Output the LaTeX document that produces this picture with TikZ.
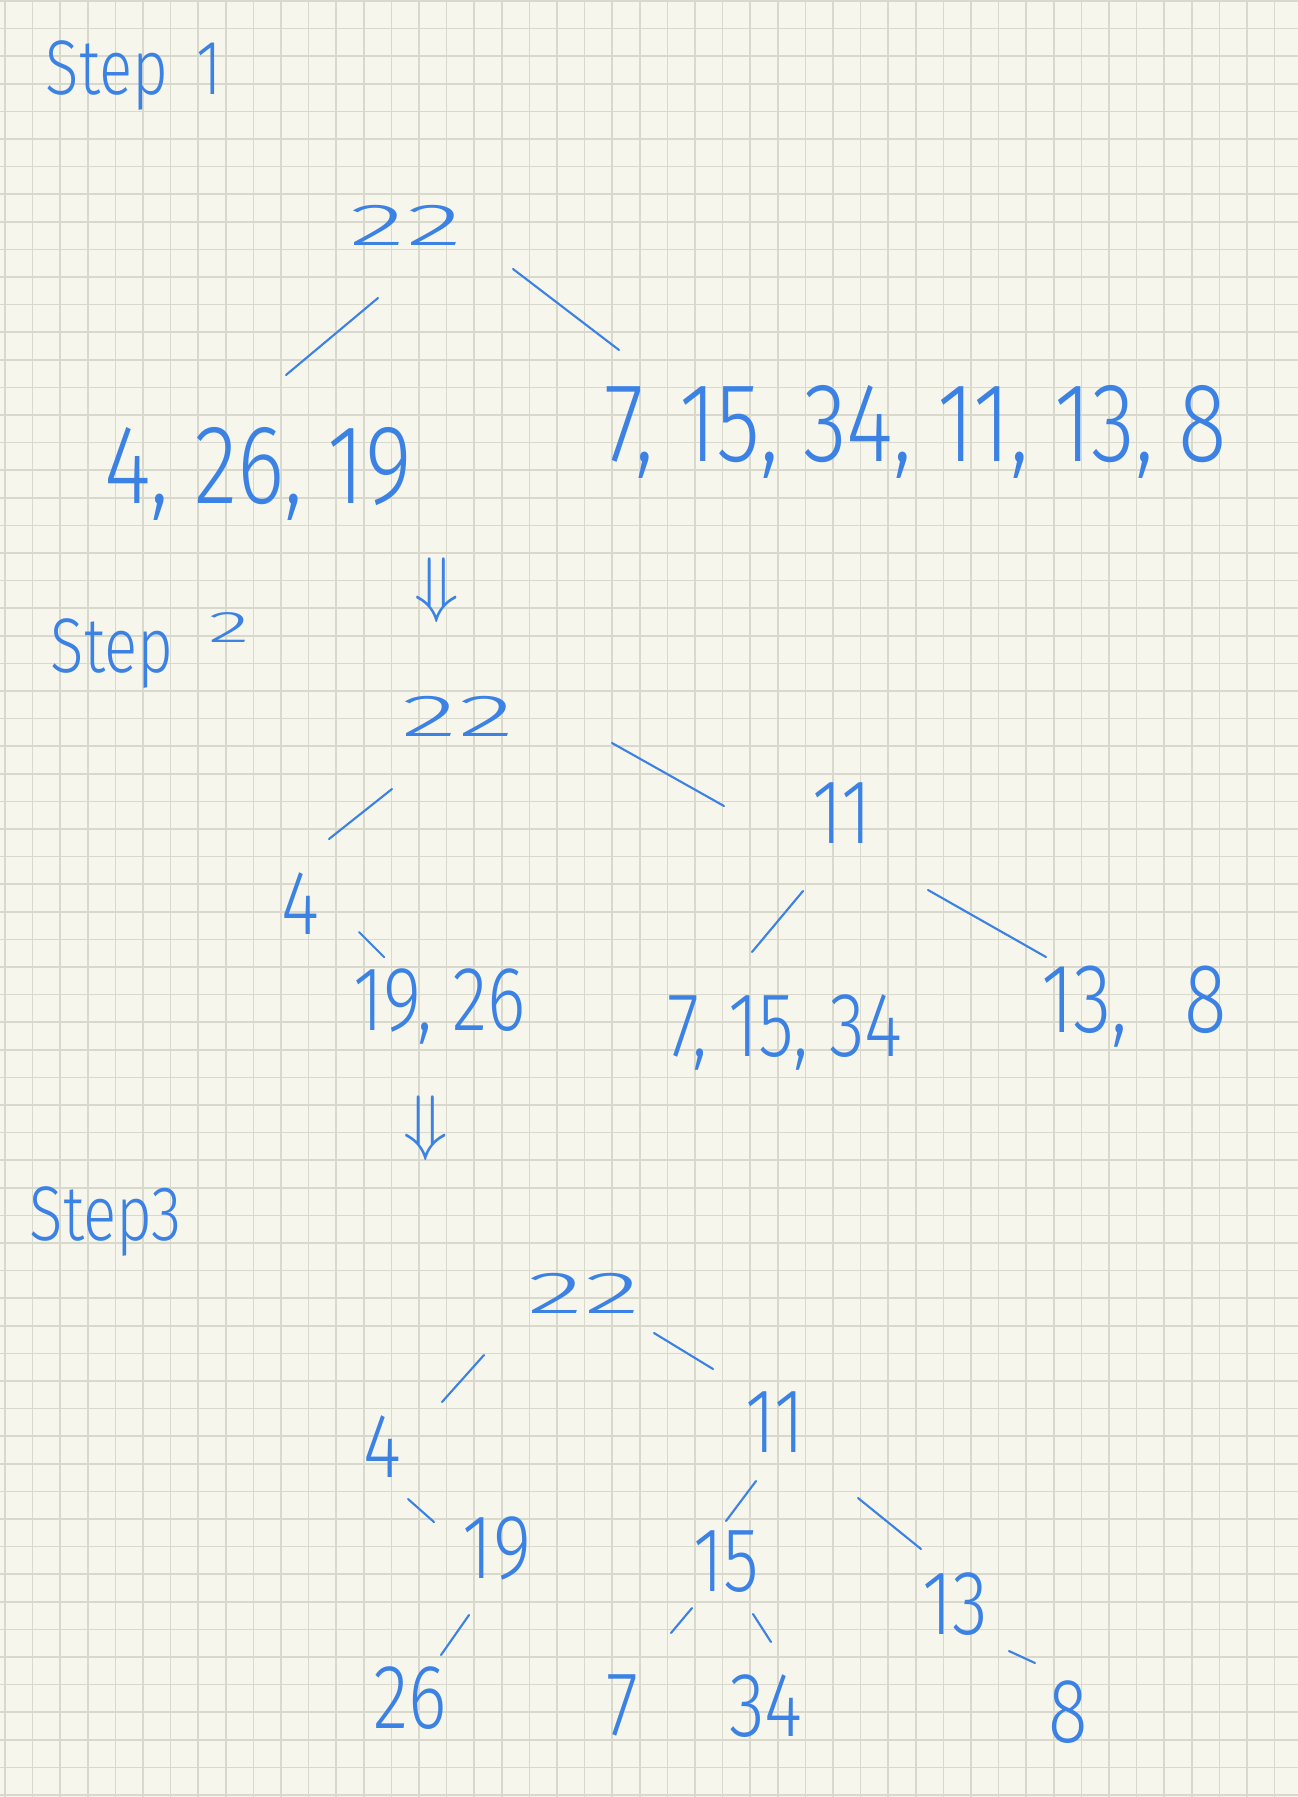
\documentclass[tikz,border=0pt]{standalone}
\usepackage{fontspec}
\setmainfont{Fira Sans}[UprightFont={* Light}, FakeStretch=0.8]
\definecolor{paper}{RGB}{246,246,236}
\definecolor{gridgray}{RGB}{216,216,204}
\definecolor{ink}{RGB}{60,130,228}
\tikzset{
  num/.style={text=ink, font=\fontsize{26}{28}\selectfont, inner sep=1pt},
  link/.style={draw=ink, line width=0.6pt, line cap=round},
  steplabel/.style={text=ink, font=\fontsize{22}{24}\selectfont, anchor=base west, inner sep=0pt},
  gridline/.style={draw=gridgray, line width=0.45pt},
}
\newcommand{\flatnum}[1]{\scalebox{1.6}[0.65]{#1}}
\begin{document}
\begin{tikzpicture}[x=0.01cm, y=-0.01cm]
  % paper
  \fill[paper] (0,0) rectangle (1298,1797);
  \useasboundingbox (0,0) rectangle (1298,1797);
  \foreach \i in {0,...,46} \draw[gridline] ({5+27.6*\i},0) -- ({5+27.6*\i},1797);
  \foreach \i in {0,...,65} \draw[gridline] (0,{1+27.6*\i}) -- (1298,{1+27.6*\i});

  % step 1
  \node[steplabel] (lab1) at (45,95) {Step\hspace{8pt}1};
  \node[num] (s1top) at (406,225) {\flatnum{22}};
  \node[num, font=\fontsize{32}{34}\selectfont] (s1left) at (258,474) {4, 26, 19};
  \node[num, font=\fontsize{32}{34}\selectfont] (s1right) at (916,432) {7, 15, 34, 11, 13, 8};
  \draw[link] ([shift={(-28,73)}]s1top.center) -- ([shift={(28,-99)}]s1left.center);
  \draw[link] ([shift={(107,44)}]s1top.center) -- ([shift={(-297,-82)}]s1right.center);

  \node[text=ink, font=\fontsize{20}{20}\selectfont] (arr1) at (437,590) {$\Downarrow$};

  % step 2
  \node[steplabel] (lab2) at (50,672) {Step\hspace{10pt}\raisebox{8.5pt}{\scalebox{2.2}[0.9]{\fontsize{14}{14}\selectfont 2}}};
  \node[num] (s2top) at (458,716) {\flatnum{22}};
  \node[num] (s2a) at (300,904) {4};
  \node[num] (s2b) at (440,1006) {19, 26};
  \node[num] (s2c) at (842,813) {11};
  \node[num] (s2d) at (785,1032) {7, 15, 34};
  \node[num, font=\fontsize{28}{30}\selectfont] (s2e) at (1134,1007) {13,\hspace{16pt}8};
  \draw[link] ([shift={(-66,73)}]s2top.center) -- ([shift={(29,-65)}]s2a.center);
  \draw[link] ([shift={(154,27)}]s2top.center) -- ([shift={(-118,-7)}]s2c.center);
  \draw[link] ([shift={(59,28)}]s2a.center) -- ([shift={(-56,-49)}]s2b.center);
  \draw[link] ([shift={(-39,78)}]s2c.center) -- ([shift={(-33,-80)}]s2d.center);
  \draw[link] ([shift={(86,77)}]s2c.center) -- ([shift={(-88,-50)}]s2e.center);

  \node[text=ink, font=\fontsize{20}{20}\selectfont] (arr2) at (426,1128) {$\Downarrow$};

  % step 3
  \node[steplabel] (lab3) at (29,1240) {Step3};
  \node[num] (s3top) at (584,1293) {\flatnum{22}};
  \node[num] (s3a) at (382,1447) {4};
  \node[num] (s3b) at (775,1422) {11};
  \node[num] (s3c) at (497,1548) {19};
  \node[num] (s3d) at (726,1562) {15};
  \node[num] (s3e) at (955,1604) {13};
  \node[num] (s3f) at (410,1698) {26};
  \node[num] (s3g) at (622,1705) {7};
  \node[num] (s3h) at (766,1706) {34};
  \node[num] (s3i) at (1068,1712) {8};
  \draw[link] ([shift={(-100,62)}]s3top.center) -- ([shift={(60,-45)}]s3a.center);
  \draw[link] ([shift={(70,40)}]s3top.center) -- ([shift={(-62,-53)}]s3b.center);
  \draw[link] ([shift={(26,52)}]s3a.center) -- ([shift={(-63,-26)}]s3c.center);
  \draw[link] ([shift={(-19,59)}]s3b.center) -- ([shift={(0,-41)}]s3d.center);
  \draw[link] ([shift={(83,76)}]s3b.center) -- ([shift={(-34,-55)}]s3e.center);
  \draw[link] ([shift={(-28,67)}]s3c.center) -- ([shift={(31,-43)}]s3f.center);
  \draw[link] ([shift={(-34,46)}]s3d.center) -- ([shift={(49,-72)}]s3g.center);
  \draw[link] ([shift={(27,52)}]s3d.center) -- ([shift={(5,-64)}]s3h.center);
  \draw[link] ([shift={(54,47)}]s3e.center) -- ([shift={(-33,-49)}]s3i.center);
\end{tikzpicture}
\end{document}
